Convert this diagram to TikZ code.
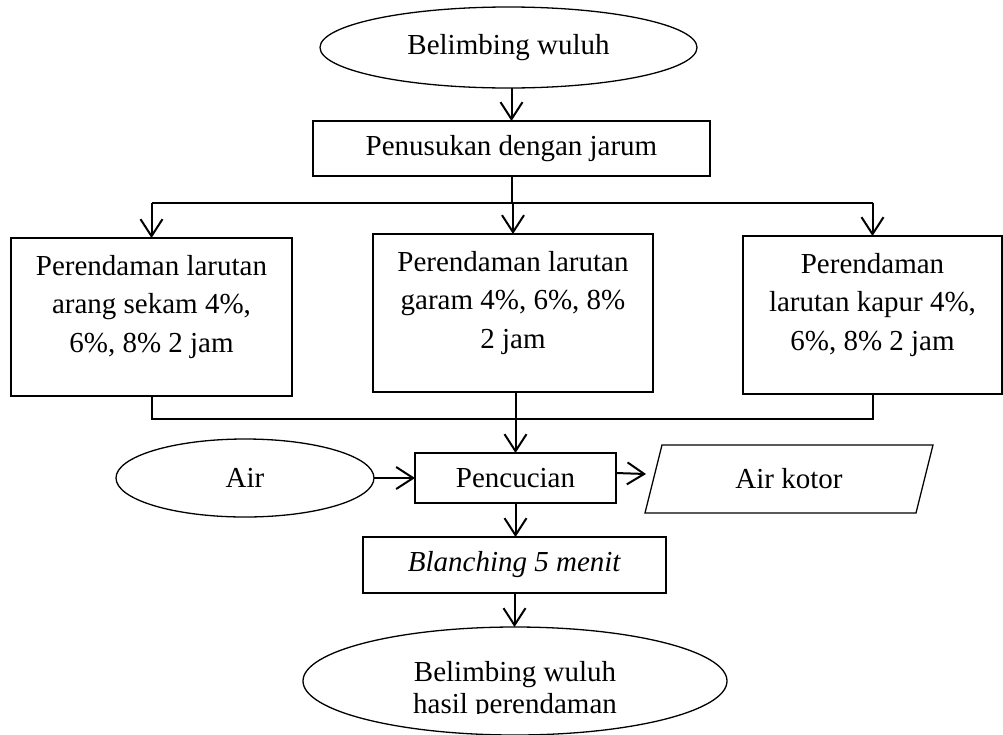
\documentclass[tikz,border=0pt]{standalone}
\usepackage{fontspec}
\setmainfont{Liberation Serif}
\usetikzlibrary{arrows.meta,shapes.geometric}
\begin{document}
\begin{tikzpicture}[x=1pt,y=-1pt,
  every node/.style={font=\fontsize{29}{38.5}\selectfont, inner sep=0pt, outer sep=0pt},
  box/.style={draw, line width=1.3pt, rectangle},
  oval/.style={draw, line width=1.3pt, ellipse},
  link/.style={line width=2pt},
  arr/.style={line width=2pt, -{Straight Barb[length=17pt,width=22pt]}}]
\useasboundingbox (0,0) rectangle (1003,734);
% nodes
\node[oval, minimum width=377, minimum height=81] (start) at (508.5,47.5) {Belimbing wuluh};
\node[box, minimum width=397, minimum height=55] (pen) at (511.5,148.5) {Penusukan dengan jarum};
\node[box, minimum width=281, minimum height=158] (left) at (151.5,317)
  {\parbox[c][158pt][t]{275pt}{\centering\rule{0pt}{37pt}Perendaman larutan\\arang sekam 4\%,\\6\%, 8\% 2 jam}};
\node[box, minimum width=280, minimum height=158] (mid) at (513,313)
  {\parbox[c][158pt][t]{275pt}{\centering\rule{0pt}{37pt}Perendaman larutan\\garam 4\%, 6\%, 8\%\\2 jam}};
\node[box, minimum width=259, minimum height=158] (right) at (872.5,315)
  {\parbox[c][158pt][t]{255pt}{\centering\rule{0pt}{37pt}Perendaman\\larutan kapur 4\%,\\6\%, 8\% 2 jam}};
\node[oval, minimum width=258, minimum height=78] (air) at (245,478) {Air};
\node[box, minimum width=201, minimum height=50] (wash) at (515.5,478) {Pencucian};
\node[minimum width=288, minimum height=68] (waste) at (789,479) {Air kotor};
\draw[line width=1.3pt] ([xshift=17pt]waste.north west) -- (waste.north east)
  -- ([xshift=-17pt]waste.south east) -- (waste.south west) -- cycle;
\node[box, minimum width=303, minimum height=56] (blanch) at (514.5,565) {\textit{Blanching 5 menit}};
\node[oval, minimum width=424, minimum height=108] (end) at (515,681) {};
\begin{scope}
  \clip (0,0) rectangle (1003,713);
  \node[align=center, font=\fontsize{29}{32}\selectfont] (endtext) at (515,691) {Belimbing wuluh\\hasil perendaman};
\end{scope}
% connectors
\coordinate (split) at (512,202.5);
\coordinate (merge) at (512,419);
\draw[arr] (pen.north |- start.south) -- (pen.north);
\draw[link] (pen.south) -- (pen.south |- split);
\draw[link] (left.north |- split) -- (right.north |- split);
\draw[arr] (left.north |- split) -- (left.north);
\draw[arr] (mid.north |- split) -- (mid.north);
\draw[arr] (right.north |- split) -- (right.north);
\draw[link] (left.south) -- (left.south |- merge) -- (right.south |- merge) -- (right.south);
\draw[arr] (wash.north |- mid.south) -- (wash.north);
\draw[arr] (air.east) -- (wash.west);
\draw[arr] ([yshift=5pt]wash.east) -- ([yshift=5pt,xshift=1pt]waste.west);
\draw[arr] (wash.south) -- (wash.south |- blanch.north);
\draw[arr] (blanch.south) -- (blanch.south |- end.north);
\end{tikzpicture}
\end{document}
